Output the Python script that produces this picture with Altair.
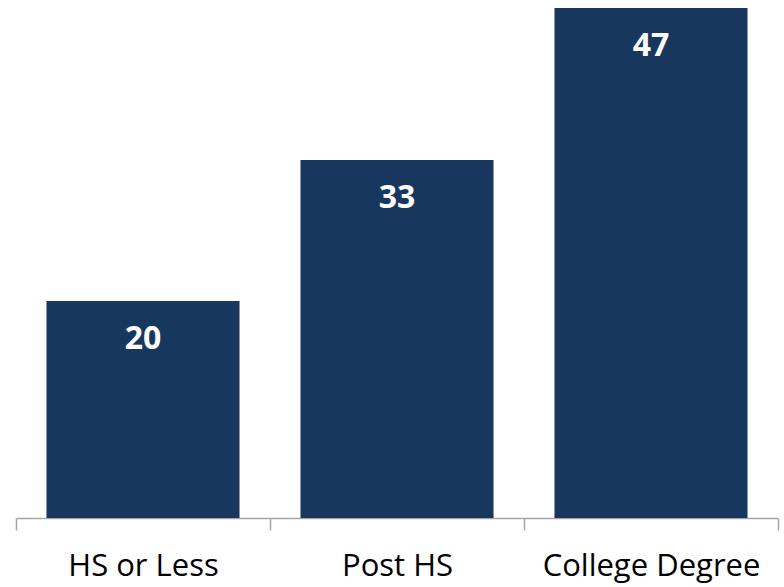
import altair as alt
import pandas as pd

categories = ["HS or Less", "Post HS", "College Degree"]
values = [20, 33, 47]

df = pd.DataFrame({"cat": categories, "val": values})

base = alt.Chart(df).encode(
    x=alt.X("cat:N", sort=categories, title=None,
            scale=alt.Scale(paddingInner=0, paddingOuter=0),
            axis=alt.Axis(labelAngle=0, labelFont="Open Sans", labelFontSize=31, labelLimit=400,
                          labelColor="#000000", domainColor="#a6a6a6", tickColor="#a6a6a6",
                          tickSize=12, tickBand="extent", labelPadding=21, domainWidth=1.5, tickWidth=1.5)),
    y=alt.Y("val:Q", title=None, scale=alt.Scale(domain=[0, 47], nice=False), axis=None),
)

bars = base.mark_bar(color="#17375E", width=alt.RelativeBandSize(0.76))
text = base.mark_text(baseline="top", dy=23, color="white", font="Open Sans",
                      fontWeight="bold", fontSize=32).encode(text="val:Q")

chart = (bars + text).properties(
    width=762, height=510,
    padding={"left": 16, "top": 8, "right": 6, "bottom": 69},
    autosize=alt.AutoSizeParams(type="none"),
).configure_view(stroke=None)

chart.save("out.html", embed_options={"renderer": "svg", "actions": False})
